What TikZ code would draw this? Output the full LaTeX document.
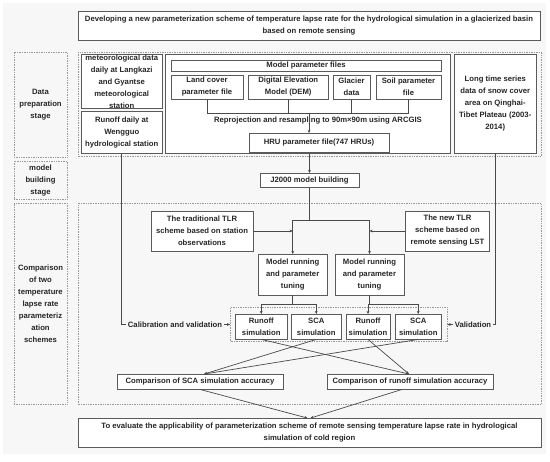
\documentclass[tikz,border=0pt]{standalone}
\usepackage{fontspec}
\setmainfont{Liberation Sans}
\usetikzlibrary{arrows.meta,calc}
\definecolor{lnc}{HTML}{4A4A4A}
\definecolor{bxc}{HTML}{5A5A5A}
\definecolor{dtc}{HTML}{9A9A9A}
\definecolor{bgc}{HTML}{F7F7F7}
\definecolor{txc}{HTML}{262626}
\newcommand\fs{\bfseries\fontsize{7.7}{12}\selectfont}
\newcommand\bx[7][]{\node[box,#1,minimum width={#5-#3},minimum height={#6-#4}] (#2) at ({(#3+#5)/2},{(#4+#6)/2}) {#7};}
\tikzset{
 box/.style={draw=bxc, line width=0.85pt, fill=white, inner sep=0pt, align=center, text=txc, font=\fs},
 dotbox/.style={draw=dtc, line width=0.7pt, dash pattern=on 0.7pt off 1pt},
 ln/.style={draw=lnc, line width=0.7pt},
 arr/.style={ln, -{Stealth[length=3.2pt,width=2.8pt]}},
 lbl/.style={text=txc, font=\fs, inner sep=1.5pt},
}
\begin{document}
\begin{tikzpicture}[x=1pt,y=-1pt]
\useasboundingbox (0,0) rectangle (550,462);
\fill[bgc] (3,3) rectangle (546,454);
% title
\bx{title}{78}{11}{540}{40}{Developing a new parameterization scheme of temperature lapse rate for the hydrological simulation in a glacierized basin\\based on remote sensing}
% stage labels
\bx[dotbox,fill=none]{lab1}{14}{52}{67}{157}{Data\\preparation\\stage}
\bx[dotbox,fill=none]{lab2}{14}{161}{67}{199.5}{model\\building\\stage}
\bx[dotbox,fill=none]{lab3}{14}{203}{67}{404}{Comparison\\of two\\temperature\\lapse rate\\parameteriz\\ation\\schemes}
% containers
\draw[dotbox] (78,52) rectangle (541,156.5);
\draw[dotbox] (78,203.5) rectangle (541,404.5);
% data preparation
\bx{met}{81}{54.5}{162.5}{108.5}{meteorological data\\daily at Langkazi\\and Gyantse\\meteorological\\station}
\bx{rd}{81}{111}{162.5}{153.5}{Runoff daily at\\Wengguo\\hydrological station}
\bx{mp}{165}{54.5}{450.5}{153.5}{}
\bx{mpf}{171}{60}{441}{71}{Model parameter files}
\bx{lc}{171}{75}{243}{99}{Land cover\\parameter file}
\bx{dem}{248.5}{75}{328}{99}{Digital Elevation\\Model (DEM)}
\bx{gl}{333}{75}{370}{99}{Glacier\\data}
\bx{soil}{376}{75}{441}{99}{Soil parameter\\file}
\coordinate (busc) at (309,113.3);
\node[lbl] (rep) at (318,121) {Reprojection and resampling to 90m×90m using ARCGIS};
\bx{hru}{249}{133.5}{389}{152}{HRU parameter file(747 HRUs)}
\bx{lts}{454}{54.5}{536.5}{153.5}{Long time series\\data of snow cover\\area on Qinghai-\\Tibet Plateau (2003-\\2014)}
% model building
\bx{j2k}{260}{173.5}{359}{187.5}{J2000 model building}
% comparison
\bx{trad}{151}{211}{253}{251}{The traditional TLR\\scheme based on station\\observations}
\bx{new}{405.5}{211}{489.5}{251}{The new TLR\\scheme based on\\remote sensing LST}
\bx{mr1}{258.5}{254.5}{327}{295}{Model running\\and parameter\\tuning}
\bx{mr2}{335}{254.5}{404}{295}{Model running\\and parameter\\tuning}
\bx[dotbox,fill=none]{grp}{230.5}{307.5}{447}{341.5}{}
\bx{r1}{235.5}{314.5}{287}{339}{Runoff\\simulation}
\bx{s1}{291}{314.5}{341.5}{339}{SCA\\simulation}
\bx{r2}{346}{314.5}{390}{339}{Runoff\\simulation}
\bx{s2}{395}{314.5}{441.5}{339}{SCA\\simulation}
\node[lbl] (cal) at (175,324.5) {Calibration and validation};
\node[lbl] (val) at (473,324.5) {Validation};
\bx{csca}{117}{374.5}{283}{389}{Comparison of SCA simulation accuracy}
\bx{crun}{327}{374.5}{493}{389}{Comparison of runoff simulation accuracy}
\bx{bot}{78}{418.5}{541}{447}{To evaluate the applicability of parameterization scheme of remote sensing temperature lapse rate in hydrological\\simulation of cold region}
% connectors
\draw[ln] (lc.south) |- (soil.south |- busc) -- (soil.south);
\draw[ln] (dem.south) -- (dem.south |- busc);
\draw[ln] (gl.south) -- (gl.south |- busc);
\draw[arr] (busc) -- (busc |- hru.north);
\draw[arr] (mp.south -| j2k.north) -- (j2k.north);
\coordinate (b2) at (0,220.5);
\draw[ln] (j2k.south) -- (j2k.south |- b2);
\draw[ln] (mr1.north |- b2) -- (mr2.north |- b2);
\draw[arr] (mr1.north |- b2) -- (mr1.north);
\draw[arr] (mr2.north |- b2) -- (mr2.north);
\draw[arr] (trad.east) -- (trad.east -| mr1.north);
\draw[arr] (new.west) -- (new.west -| mr2.north);
\coordinate (b3) at (0,304.5);
\draw[ln] (mr1.south) -- (mr1.south |- b3);
\draw[ln] (r1.north |- b3) -- (s1.north |- b3);
\draw[arr] (r1.north |- b3) -- (r1.north);
\draw[arr] (s1.north |- b3) -- (s1.north);
\draw[ln] (mr2.south) -- (mr2.south |- b3);
\draw[ln] (r2.north |- b3) -- (s2.north |- b3);
\draw[arr] (r2.north |- b3) -- (r2.north);
\draw[arr] (s2.north |- b3) -- (s2.north);
\draw[ln] (rd.south) |- (cal.west);
\draw[arr] (cal.east) -- (cal.east -| grp.west);
\draw[ln] (lts.south) |- (val.east);
\draw[arr] (val.west) -- (val.west -| grp.east);
\draw[arr] (r1.south) -- ($(crun.north)+(-1,0)$);
\draw[arr] (s1.south) -- ($(csca.north)+(4,0)$);
\draw[arr] (r2.south) -- ($(crun.north)+(-1,0)$);
\draw[arr] (s2.south) -- ($(csca.north)+(4,0)$);
\draw[arr] (csca.south) -- ($(bot.north)+(-2,0)$);
\draw[arr] ($(crun.south)+(-8,0)$) -- ($(bot.north)+(1,0)$);
\end{tikzpicture}
\end{document}
